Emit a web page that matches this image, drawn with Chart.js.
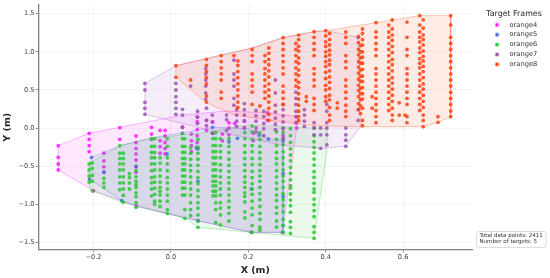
<!DOCTYPE html>
<html>
<head>
<meta charset="utf-8">
<style>html,body{margin:0;padding:0;background:#fff}#w{width:550px;height:278px;position:relative}</style>
<script src="https://cdn.jsdelivr.net/npm/chart.js@4"></script>
</head>
<body>
<div id="w"><canvas id="c" width="550" height="278"></canvas></div>
<script>
const seriesNames = ['orange4','orange5','orange6','orange7','orange8'];
const seriesColors = ['#ff1fff','#4a6fe0','#2fc83a','#9b59b6','#ff4713'];
const xTickValues = [-0.2,0,0.2,0.4,0.6];
const xTickLabels = ['−0.2','0.0','0.2','0.4','0.6'];
const yTickValues = [-1.5,-1,-0.5,0,0.5,1,1.5];
const yTickLabels = ['−1.5','−1.0','−0.5','0.0','0.5','1.0','1.5'];
const noteLines = ['Total data points: 2411','Number of targets: 5'];

// columns: [x, [y values]]
const orange4Cols = [
[-0.291,[-0.232,-0.385,-0.472,-0.551]],
[-0.211,[-0.07,-0.148,-0.232,-0.311]],
[-0.173,[-0.33,-0.43,-0.51,-0.58]],
[-0.132,[0.004,-0.148]],
[-0.09,[-0.105,-0.19,-0.27,-0.34,-0.42,-0.51,-0.58]],
[-0.05,[0.009,-0.08,-0.15]],
[-0.028,[-0.03,-0.165,-0.245,-0.33]],
[-0.015,[-0.03,-0.105,-0.19,-0.27,-0.34]],
[0.03,[0.01,-0.07]],
[0.053,[-0.079,-0.166,-0.23,-0.31]],
[0.068,[0.148,0.083,-0.02,-0.1,-0.19,-0.27]],
[0.092,[0.1,-0.03]],
[0.108,[0.08,-0.07]],
[0.133,[-0.08,-0.166]],
[0.15,[0,-0.09,0.07]],
[0.165,[0.06]],
[0.19,[0.096,0]],
[0.213,[-0.07,-0.166]],
[0.25,[0.2,0.1]],
[0.325,[0.148,0.07,0]],
[-0.2,[-0.823]],
[-0.089,[-1.02]],
[0.07,[-1.216]],
[0.208,[-1.369]],
[0.288,[-1.369]]
];
const orange5Cols = [
[-0.205,[-0.385]],
[-0.173,[-0.58]],
[-0.09,[-0.5]],
[-0.01,[-0.34]],
[0.066,[-0.259]],
[0.07,[-0.27]],
[0.108,[0.009]],
[0.15,[-0.18]],
[0.172,[-0.135]],
[0.228,[-0.092]],
[0.252,[-0.144]],
[0.29,[-0.167,-0.6,-0.9,-1.28,-1.369]],
[0.208,[-1.369,-0.8]],
[0.07,[-1.216,-0.7]],
[-0.127,[-0.954]],
[-0.21,[-0.67]]
];
const orange6Cols = [
[-0.211,[-0.47,-0.55,-0.63,-0.71]],
[-0.203,[-0.46,-0.53,-0.62,-0.7,-0.823]],
[-0.173,[-0.66,-0.72,-0.78]],
[-0.132,[-0.232,-0.33,-0.4,-0.47,-0.55,-0.64,-0.72,-0.81]],
[-0.123,[-0.33,-0.4,-0.47,-0.55,-0.64,-0.72,-0.8,-0.885,-0.975]],
[-0.107,[-0.6,-0.65,-0.72,-0.8]],
[-0.09,[-0.56,-0.64,-0.7,-0.74,-0.78,-0.85,-0.9,-0.98,-1.04]],
[-0.05,[-0.14,-0.24,-0.32,-0.39,-0.47,-0.56,-0.65,-0.72,-0.8,-0.89]],
[-0.042,[-0.14,-0.24,-0.32,-0.39,-0.47,-0.55,-0.64,-0.71,-0.79,-0.87,-0.96,-1]],
[-0.028,[-0.39,-0.46,-0.55,-0.63,-0.71,-0.78,-0.83,-0.88,-0.96,-1.03]],
[-0.009,[-0.14,-0.24,-0.39,-0.47,-0.56,-0.65,-0.72,-0.8,-0.88,-0.96,-1.07,-1.12]],
[0.03,[-0.07,-0.14,-0.24,-0.32,-0.4,-0.47,-0.55,-0.63,-0.71,-0.79,-0.88]],
[0.036,[-0.14,-0.24,-0.32,-0.4,-0.47,-0.55,-0.63,-0.71,-0.79,-0.88,-1.07,-1.185]],
[0.051,[-0.26,-0.33,-0.41,-0.49,-0.56,-0.64,-0.72,-0.8,-0.88,-0.98,-1.07,-1.15]],
[0.07,[-0.15,-0.25,-0.33,-0.41,-0.49,-0.57,-0.65,-0.73,-0.82,-0.9,-0.98,-1.05,-1.14,-1.22,-1.303]],
[0.109,[-0.07,-0.14,-0.23,-0.31,-0.39,-0.47,-0.55,-0.63,-0.7,-0.76,-0.83,-0.89]],
[0.116,[-0.06,-0.14,-0.23,-0.31,-0.39,-0.47,-0.55,-0.63,-0.7,-0.76,-0.83,-0.89,-0.98,-1.07,-1.24]],
[0.128,[-0.14,-0.23,-0.31,-0.39,-0.48,-0.56,-0.64,-0.72,-0.8,-0.88,-0.98,-1.05,-1.14,-1.27]],
[0.15,[-0.14,-0.24,-0.32,-0.41,-0.49,-0.57,-0.65,-0.72,-0.8,-0.88,-0.96,-1.04,-1.12,-1.22]],
[0.191,[-0.06,-0.14,-0.23,-0.32,-0.4,-0.48,-0.56,-0.64,-0.71,-0.78,-0.85,-0.9,-0.97,-1.1,-1.18]],
[0.21,[0.026,-0.05,-0.15,-0.23,-0.31,-0.4,-0.48,-0.57,-0.65,-0.73,-0.8,-0.87,-0.96,-1.05,-1.14,-1.28,-1.369]],
[0.23,[-0.06,-0.15,-0.24,-0.32,-0.4,-0.48,-0.56,-0.63,-0.7,-0.78,-0.86,-0.94,-1.03,-1.12,-1.2,-1.3,-1.34]],
[0.273,[-0.05,-0.15,-0.23,-0.32,-0.4,-0.47,-0.56,-0.64,-0.72,-0.8,-0.88,-0.95,-1.04,-1.12,-1.22,-1.3]],
[0.29,[0,-0.06,-0.14,-0.22,-0.31,-0.39,-0.47,-0.55,-0.63,-0.7,-0.78,-0.86,-0.94,-1.02,-1.1,-1.2,-1.28,-1.369]],
[0.309,[-0.01,-0.1,-0.188,-0.275,-0.354,-0.43,-0.516,-0.595,-0.68,-0.757,-0.79,-0.866,-0.945,-1.02,-1.106,-1.229,-1.303,-1.383]],
[0.37,[0,-0.1,-0.18,-0.253,-0.328,-0.407,-0.486,-0.573,-0.647,-0.726,-0.8,-0.844,-0.932,-1.006,-1.085,-1.163,-1.295,-1.369,-1.448]]
];
const orange7Cols = [
[-0.067,[0.586,0.499,0.337,0.258,0.18]],
[0.013,[0.586,0.499,0.411,0.337,0.258,0.18]],
[0.03,[0.245,0.17,0.01]],
[0.051,[0.55]],
[0.069,[0.22,0.14,0.06]],
[0.09,[0.78,0.71,0.63,0.55,0.46,0.38]],
[0.092,[0.26,0.1,0.03]],
[0.107,[0.17,0.08,-0.07]],
[0.144,[0.17,0.11,-0.03]],
[0.163,[0.89,0.71,0.63,0.55,0.39,0.3]],
[0.17,[0.24,0.17,0.09,0.02]],
[0.19,[0.32,0.24,0.17,0.09,0]],
[0.22,[0.23,0.16,0.09,0,-0.05]],
[0.24,[0.22,0.15,0.06,-0.01,-0.1]],
[0.27,[0.63,0.46,0.3,0.21,0.13,0.05,-0.02]],
[0.29,[0.31,0.24,0.16,0.08,-0.01,-0.1,-0.14]],
[0.323,[0.47,0.39,0.31,0.22,0.15,0.07]],
[0.345,[0.17,0.09,0.02,0.24]],
[0.37,[0.07,0,-0.09]],
[0.387,[-0.267,0,-0.09]],
[0.403,[0.31,0.22,0.07,0,-0.09,-0.22]],
[0.452,[0,-0.09,-0.16,-0.24]],
[0.484,[1.19,0.24,0.1]]
];
const orange8Cols = [
[0.013,[0.818,0.665]],
[0.051,[0.63]],
[0.092,[0.9,0.82,0.74,0.66,0.58,0.42,0.34]],
[0.13,[0.95,0.87,0.79,0.71,0.63,0.47,0.39]],
[0.163,[0.95]],
[0.173,[0.88,0.82,0.74,0.66,0.58,0.5,0.42,0.34,0.27]],
[0.21,[1.03,0.95,0.87,0.71,0.63,0.55,0.47,0.31]],
[0.23,[0.29]],
[0.243,[0.95,0.87,0.78,0.71,0.63,0.55,0.47,0.39]],
[0.253,[1.05,0.98,0.9,0.83,0.75,0.67,0.58,0.5,0.42,0.34,0.26,0.18,0.1]],
[0.29,[1.185,1.11,1.03,0.95,0.87,0.79,0.71,0.55,0.47,0.39,0.31]],
[0.323,[1.11,1.03,0.95,0.87,0.79,0.71,0.63,0.55]],
[0.33,[1.22,1.16,1.07,1.01,0.92,0.85,0.76,0.69,0.6,0.53,0.45,0.38,0.3,0.22,0.15,0.1]],
[0.35,[0.41,0.35]],
[0.37,[1.264,1.19,1.11,1.03,0.95,0.78,0.71,0.63,0.55,0.39,0.31,0.23]],
[0.4,[1.277,1.21,1.13,1.07,1,0.94,0.87,0.81,0.73,0.65,0.56,0.5,0.41,0.35]],
[0.41,[1.24,1.16,1.09,1.02,0.96,0.89,0.83,0.75,0.67,0.6,0.52,0.43,0.37,0.27,0.17,0.1]],
[0.43,[0.33,0.26]],
[0.452,[1.26,1.19,1.11,0.95,0.87,0.79,0.63,0.55,0.47,0.39,0.3,0.22,0.15]],
[0.485,[1.2,1.12,1.03,0.96,0.87,0.8,0.72,0.64,0.56,0.49,0.41,0.32,0.24]],
[0.49,[1.08,1,0.92,0.85,0.76,0.68,0.61,0.52,0.45,0.37,0.29,0.19]],
[0.495,[1.3,1.24,1.16,1.09,1,0.93,0.85,0.77,0.68,0.61,0.53,0.45,0.38,0.26,0.1,0.03]],
[0.52,[0.41,0.26]],
[0.53,[1.382,1.26,1.19,1.11,1.03,0.95,0.78,0.71,0.63,0.55,0.47,0.39,0.31,0.23,0.15,0.07]],
[0.563,[1.35,1.26,1.19,1.11,1.03,0.95,0.87,0.79,0.71,0.63,0.55,0.47,0.39,0.31,0.23]],
[0.572,[1.417,1.3,1.22,1.15,1.07,0.99,0.9,0.83,0.75,0.66,0.59,0.51,0.43,0.35,0.26,0.17,0.1]],
[0.59,[0.33,0.17]],
[0.605,[0.17]],
[0.61,[1.39,1.19,1.03,0.95,0.78,0.71,0.63,0.55,0.47,0.39,0.31,0.15,0.07]],
[0.643,[1.474,1.35,1.26,1.19,1.13,1.05,0.99,0.91,0.85,0.79,0.71,0.63,0.55,0.47,0.39,0.31,0.23]],
[0.652,[1.42,1.31,1.22,1.16,1.09,1.01,0.94,0.88,0.81,0.74,0.66,0.58,0.51,0.43,0.35,0.27,0.17,0.1,0.017]],
[0.69,[0.149,0.074]],
[0.723,[1.474,1.352,1.19,1.11,1.03,0.949,0.87,0.79,0.709,0.63,0.551,0.468,0.39,0.31,0.223,0.149]]
];

// outline corners: [x, y]
const orange4Hull = [[-0.291,-0.232],[-0.211,-0.07],[-0.132,0.009],[0.03,0.17],[0.144,0.223],[0.25,0.2],[0.329,0.148],[0.325,0],[0.288,-1.369],[0.208,-1.369],[0.07,-1.216],[-0.089,-1.02],[-0.2,-0.823],[-0.291,-0.551]];
const orange5Hull = [[-0.205,-0.385],[-0.127,-0.223],[-0.05,-0.13],[0.11,0.009],[0.2,-0.01],[0.255,-0.14],[0.29,-0.167],[0.29,-1.369],[0.208,-1.369],[0.07,-1.216],[-0.089,-1.03],[-0.127,-0.954],[-0.21,-0.67],[-0.21,-0.46]];
const orange6Hull = [[-0.214,-0.47],[-0.13,-0.232],[-0.05,-0.135],[0.1,-0.05],[0.2,0.04],[0.37,0],[0.405,-0.005],[0.402,-0.34],[0.37,-1.447],[0.208,-1.369],[0.07,-1.303],[0.036,-1.185],[-0.124,-0.975],[-0.203,-0.823],[-0.214,-0.713]];
const orange7Hull = [[-0.067,0.586],[0.013,0.818],[0.21,1.05],[0.29,1.185],[0.37,1.264],[0.402,1.277],[0.484,1.19],[0.49,0.017],[0.452,-0.24],[0.387,-0.267],[0.29,-0.225],[0.085,-0.01],[-0.067,0.18]];
const orange8Hull = [[0.013,0.818],[0.21,1.05],[0.29,1.185],[0.37,1.264],[0.402,1.277],[0.53,1.382],[0.572,1.417],[0.643,1.474],[0.723,1.474],[0.723,0.149],[0.69,0.074],[0.652,0.017],[0.488,0.017],[0.37,0.03],[0.27,0.09],[0.165,0.17],[0.092,0.33],[0.013,0.665]];

const allCols = [orange4Cols,orange5Cols,orange6Cols,orange7Cols,orange8Cols];
const allHulls = [orange4Hull,orange5Hull,orange6Hull,orange7Hull,orange8Hull];

function rgba(hex,a){const n=parseInt(hex.slice(1),16);return `rgba(${n>>16},${(n>>8)&255},${n&255},${a})`;}
function dot(color){const c=document.createElement('canvas');c.width=5;c.height=5;const g=c.getContext('2d');g.fillStyle=color;g.beginPath();g.arc(2.5,2.5,1.9,0,Math.PI*2);g.fill();return c;}

const datasets=[];
seriesNames.forEach((name,i)=>{
  datasets.push({label:name,data:allCols[i].flatMap(([x,ys])=>ys.map(y=>({x,y}))),showLine:false,pointRadius:1.9,pointHoverRadius:1.9,pointBorderWidth:0,
    pointBackgroundColor:rgba(seriesColors[i],0.88),order:2*(5-i)-1});
});
seriesNames.forEach((name,i)=>{
  const hull=allHulls[i].concat([allHulls[i][0]]).map(([x,y])=>({x,y}));
  datasets.push({label:'',data:hull,showLine:true,pointRadius:0,borderWidth:0.8,borderColor:rgba(seriesColors[i],0.4),backgroundColor:rgba(seriesColors[i],0.1),fill:'shape',tension:0,order:2*(5-i)});
});

const legendBoxPlugin={id:'legendBox',
  beforeLayout(chart){
    const l=chart.legend; if(!l||l._fixedFit) return;
    const baseFit=l.fit;
    l.fit=function(){baseFit.call(this);this.width=78;};
    l._fixedFit=true;
  },
  afterLayout(chart){
    const l=chart.legend; if(!l) return;
    l.left=484.7; l.width=58.6; l.right=543.3;
    l.draw=function(){if(this.options.display) this._draw();};
  }
};
const notePlugin={id:'note',afterDraw(chart){
  const g=chart.ctx;g.save();
  g.beginPath();g.roundRect(476.5,231.5,69.5,16,2);g.fillStyle='#fff';g.fill();g.strokeStyle='#d4d4d4';g.lineWidth=0.8;g.stroke();
  g.fillStyle='#333';g.font='5.5px "DejaVu Sans"';g.textBaseline='middle';
  noteLines.forEach((t,i)=>g.fillText(t,479.5,235.9+i*6));
  g.restore();
}};

const gridOpts={color:'rgba(190,190,190,0.4)',lineWidth:0.8,tickColor:'#666',tickLength:3,tickWidth:0.7};
new Chart(document.getElementById('c'),{
  type:'scatter',
  data:{datasets},
  plugins:[notePlugin,legendBoxPlugin],
  options:{
    responsive:false,animation:false,
    font:{family:'"DejaVu Sans"'},
    layout:{padding:{left:0,right:0,top:5,bottom:0}},
    plugins:{
      tooltip:{enabled:false},
      legend:{
        position:'right',align:'start',
        title:{display:true,text:'Target Frames',color:'#262626',font:{family:'"DejaVu Sans"',size:7.9,lineHeight:1},padding:{top:5.5,bottom:0}},
        labels:{
          color:'#333',font:{family:'"DejaVu Sans"',size:6.7},padding:3.15,usePointStyle:true,pointStyleWidth:18.3,boxHeight:4,
          generateLabels(chart){
            return Chart.defaults.plugins.legend.labels.generateLabels(chart).map(l=>{
              const idx=seriesNames.indexOf(l.text);
              if(idx>=0) l.pointStyle=dot(seriesColors[idx]);
              return l;
            });
          },
          filter:l=>seriesNames.includes(l.text),
          sort:(a,b)=>a.datasetIndex-b.datasetIndex
        }
      }
    },
    scales:{
      x:{type:'linear',min:-0.342,max:0.778,
        afterBuildTicks:s=>{s.ticks=xTickValues.map(value=>({value}));},
        afterFit:s=>{s.height=28.5;},
        ticks:{autoSkip:false,maxRotation:0,color:'#444',font:{family:'"DejaVu Sans"',size:6.6},padding:1,callback:(v,i)=>xTickLabels[i]},
        grid:gridOpts,border:{color:'#808080',width:1.3,dash:[1,1]},
        title:{display:true,text:'X (m)',color:'#262626',font:{family:'"DejaVu Sans"',size:9.5,weight:'bold'},padding:{top:2,bottom:2}}
      },
      y:{type:'linear',min:-1.594,max:1.614,
        afterBuildTicks:s=>{s.ticks=yTickValues.map(value=>({value}));},
        afterFit:s=>{s.width=38.5;},
        ticks:{autoSkip:false,color:'#444',font:{family:'"DejaVu Sans"',size:6.6},padding:1,callback:(v,i)=>yTickLabels[i]},
        grid:gridOpts,border:{color:'#808080',width:1.3,dash:[1,1]},
        title:{display:true,text:'Y (m)',color:'#262626',font:{family:'"DejaVu Sans"',size:9.5,weight:'bold'},padding:{top:2,bottom:0}}
      }
    }
  }
});
</script>
</body>
</html>
